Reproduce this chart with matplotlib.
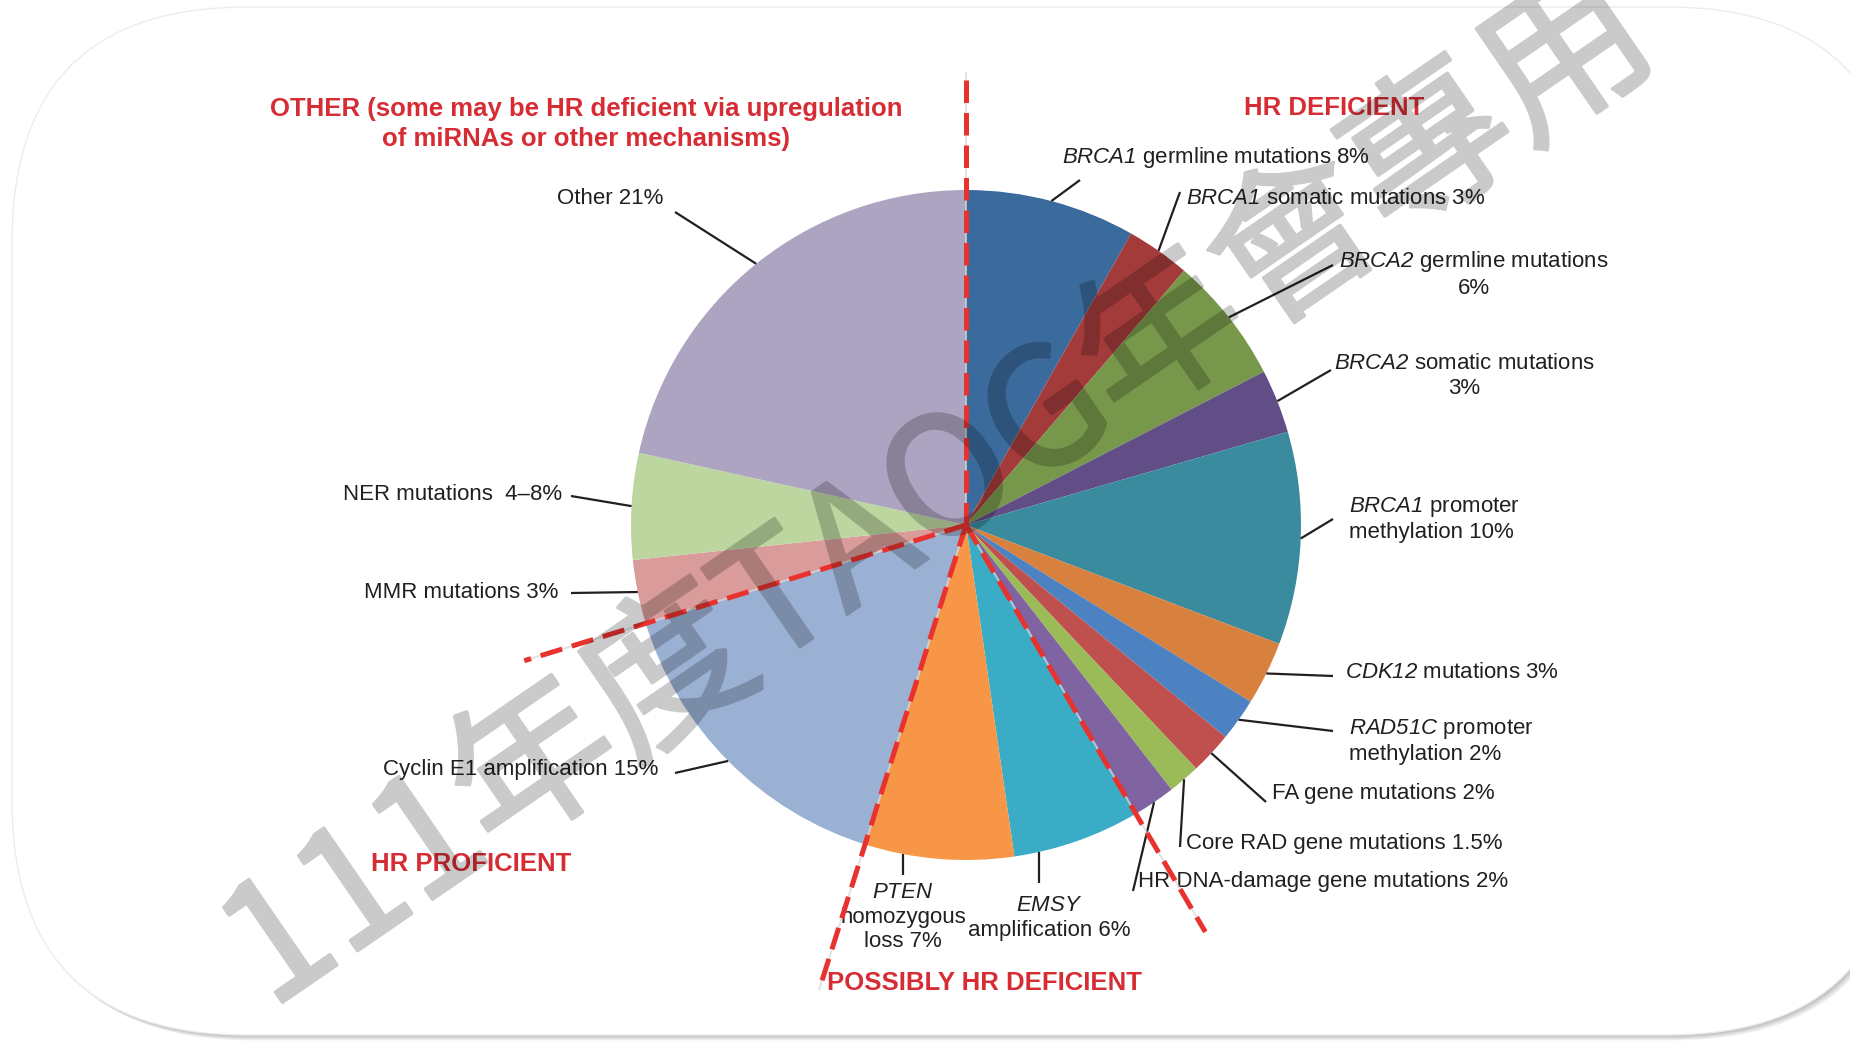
import numpy as np
import matplotlib.pyplot as plt
import matplotlib.patheffects as pe
from matplotlib.patches import FancyBboxPatch

plt.rcParams['font.family'] = ['Liberation Sans', 'DejaVu Sans']
# gene symbols are set with \mathrm, which is mapped to the italic face
plt.rcParams['mathtext.fontset'] = 'custom'
plt.rcParams['mathtext.rm'] = 'Liberation Sans:italic'
plt.rcParams['mathtext.it'] = 'Liberation Sans:italic'
plt.rcParams['mathtext.bf'] = 'Liberation Sans:bold'

W, H = 1850, 1041

# slices, clockwise from 12 o'clock
categories = ['BRCA1 germline', 'BRCA1 somatic', 'BRCA2 germline', 'BRCA2 somatic',
              'BRCA1 promoter methylation', 'CDK12', 'RAD51C promoter methylation',
              'FA gene', 'Core RAD gene', 'HR DNA-damage gene', 'EMSY amplification',
              'PTEN homozygous loss', 'Cyclin E1 amplification', 'MMR', 'NER', 'Other']
percent = [8, 3, 6, 3, 10, 3, 2, 2, 1.5, 2, 6, 7, 15, 3, 5, 21]
slice_colors = ['#3b6a9c', '#a33b3b', '#77974a', '#614e86', '#3a8b9e', '#d8813f',
                '#4c82c2', '#c0504d', '#9bbb59', '#8064a2', '#3aacc5', '#f79646',
                '#9bb1d3', '#d99c9b', '#bdd6a0', '#aca4c0']

slice_labels = [r'$\mathrm{BRCA1}$ germline mutations 8%',
                r'$\mathrm{BRCA1}$ somatic mutations 3%',
                '$\\mathrm{BRCA2}$ germline mutations\n6%',
                '$\\mathrm{BRCA2}$ somatic mutations\n3%',
                '$\\mathrm{BRCA1}$ promoter\nmethylation 10%',
                r'$\mathrm{CDK12}$ mutations 3%',
                '$\\mathrm{RAD51C}$ promoter\nmethylation 2%',
                'FA gene mutations 2%',
                'Core RAD gene mutations 1.5%',
                'HR DNA-damage gene mutations 2%',
                '$\\mathrm{EMSY}$\namplification 6%',
                '$\\mathrm{PTEN}$\nhomozygous\nloss 7%',
                'Cyclin E1 amplification 15%',
                'MMR mutations 3%',
                'NER mutations  4\u20138%',
                'Other 21%']

group_titles = ['OTHER (some may be HR deficient via upregulation\nof miRNAs or other mechanisms)',
                'HR DEFICIENT', 'HR PROFICIENT', 'POSSIBLY HR DEFICIENT']

# pixel layout (image coords, y down)
cx, cy, r = 966, H - 525, 335
label_pos = [(1062, 157, 'left'), (1186, 198, 'left'), (1474, 274, 'center'),
             (1464, 376, 'center'), (1349, 519, 'left'), (1345, 672, 'left'),
             (1349, 741, 'left'), (1272, 793, 'left'), (1186, 844, 'left'),
             (1138, 882, 'left'), (1049, 918, 'center'), (903, 917, 'center'),
             (658, 769, 'right'), (558, 592, 'right'), (562, 494, 'right'),
             (663, 199, 'right')]
# outer end of each leader line; 'v' = vertical drop onto the rim
leader_end = [(1080, 180, 'm'), (1180, 192, 'm'), (1333, 265, 'm'), (1331, 370, 'm'),
              (1333, 519, 'm'), (1333, 676, 'm'), (1333, 731, 'm'), (1266, 802, 'm'),
              (1180, 847, 'm'), (1133, 891, 'm'), (1039, 883, 'v'), (903, 875, 'v'),
              (675, 773, 'm'), (571, 593, 'm'), (571, 496, 'm'), (675, 212, 'm')]
title_pos = [(586, 124), (1334, 108), (471, 864), (984, 983)]

red = '#d62d35'
ink = '#231f20'

fig = plt.figure(figsize=(W / 100, H / 100), dpi=100)
fig.patch.set_facecolor('white')
ax = fig.add_axes([0, 0, 1, 1])

# card with soft shadow
for k in range(1, 9):
    ax.add_patch(FancyBboxPatch((12 + k * 0.7, 6 - k * 0.7), 1890, 1028,
                                boxstyle='round,pad=0,rounding_size=235',
                                fc='black', ec='none', alpha=0.035, zorder=0))
ax.add_patch(FancyBboxPatch((12, 6), 1890, 1028, boxstyle='round,pad=0,rounding_size=235',
                            fc='white', ec='#ececec', lw=1, zorder=1))

wedges, _ = ax.pie(percent, colors=slice_colors, startangle=90, counterclock=False,
                   center=(cx, cy), radius=r, wedgeprops=dict(linewidth=0, zorder=2))
ax.set_xlim(0, W)
ax.set_ylim(0, H)
ax.set_aspect('equal')
ax.axis('off')


def rim(angle):
    a = np.deg2rad(angle)
    return cx + r * np.cos(a), cy + r * np.sin(a)


# leader lines and labels
for w, text, (tx, ty, ha), (ex, ey, mode) in zip(wedges, slice_labels, label_pos, leader_end):
    if mode == 'v':
        sx, sy = ex, cy - np.sqrt(r ** 2 - (ex - cx) ** 2)
    else:
        sx, sy = rim((w.theta1 + w.theta2) / 2)
    ax.plot([sx, ex], [sy, H - ey], color=ink, lw=1.6, zorder=4, solid_capstyle='butt')
    ax.text(tx, H - ty, text, ha=ha, va='center', multialignment=ha, fontsize=16,
            color=ink, linespacing=1.22, zorder=5)

# dashed group boundaries
bounds = [(wedges[0].theta2, 452), (wedges[9].theta1, 472),
          (wedges[11].theta1, 487), (wedges[12].theta1, 462)]
for ang, length in bounds:
    a = np.deg2rad(ang)
    xs = [cx, cx + length * np.cos(a)]
    ys = [cy, cy + length * np.sin(a)]
    ax.plot(xs, ys, color='#d8d8d8', lw=1.5, alpha=0.7, zorder=6)
    ax.plot(xs, ys, color='#e8322e', lw=3.6, linestyle=(0, (4.5, 2)), zorder=7)

for t, (x, y) in zip(group_titles, title_pos):
    ax.text(x, H - y, t, ha='center', va='center', fontsize=18.5, fontweight='bold',
            color=red, linespacing=1.32, zorder=8)


def fade(img, dpi):
    # flatten the stroked glyphs into one layer, then make it translucent
    out = img.copy()
    out[..., 3] *= 0.21
    return out, 0, 0


# watermark
wm = ax.text(940, H - 494, '111年度TAOG年會專用', rotation=34.5, rotation_mode='anchor',
             ha='center', va='center', fontsize=118, color='black',
             family=['Noto Sans CJK TC', 'DejaVu Sans'], zorder=10,
             path_effects=[pe.withStroke(linewidth=2.5, foreground='black')])
wm.set_agg_filter(fade)

fig.savefig('out.png', dpi=100, facecolor='white')
